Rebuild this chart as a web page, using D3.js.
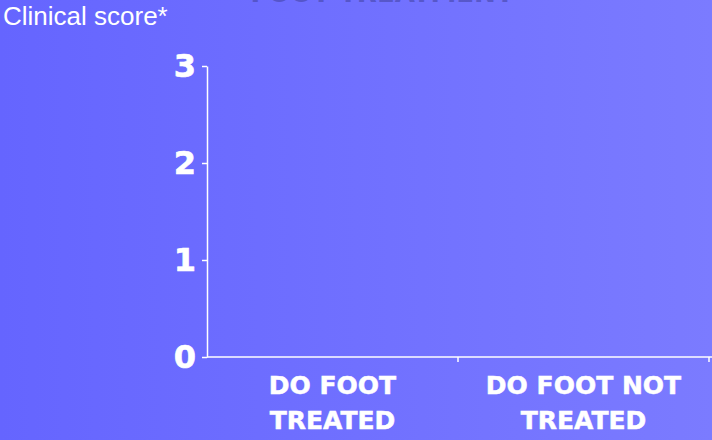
<!DOCTYPE html>
<html>
<head>
<meta charset="utf-8">
<script src="https://cdn.jsdelivr.net/npm/d3@7"></script>
<style>
html,body{margin:0;padding:0;overflow:hidden;}
svg{display:block;}
</style>
</head>
<body>
<svg id="chart" width="712" height="440"></svg>
<script>
const categories = ["DO FOOT TREATED", "DO FOOT NOT TREATED"];
const categoryLines = [["DO FOOT", "TREATED"], ["DO FOOT NOT", "TREATED"]];
const scores = [null, null]; // no bars shown in the reference
const yTicks = [0, 1, 2, 3];
const yLabel = "Clinical score*";
const title = "FOOT TREATMENT";

const W = 712, H = 440;
const svg = d3.select("#chart");

const defs = svg.append("defs");
const grad = defs.append("linearGradient").attr("id", "bg").attr("x1", "0").attr("y1", "0").attr("x2", "1").attr("y2", "0");
grad.append("stop").attr("offset", "0%").attr("stop-color", "#6565ff");
grad.append("stop").attr("offset", "100%").attr("stop-color", "#7b7bff");
svg.append("rect").attr("width", W).attr("height", H).attr("fill", "url(#bg)");

// title, mostly above the top edge as in the reference
svg.append("text").attr("x", 382).attr("y", 1.5).attr("text-anchor", "middle")
  .attr("font-family", "DejaVu Sans").attr("font-weight", "bold").attr("font-size", 26)
  .attr("fill", "#4646a8").attr("opacity", 0.6).text(title);

const y = d3.scaleLinear().domain([0, 3]).range([357, 66]);
const x = d3.scaleBand().domain(categories).range([207, 709]).padding(0);

// y axis
const yAxis = svg.append("g").attr("transform", "translate(207,0)")
  .call(d3.axisLeft(y).tickValues(yTicks).tickFormat(d3.format("d")).tickSize(5).tickSizeOuter(0).tickPadding(6));
yAxis.select(".domain").attr("stroke", "#ffffff").attr("stroke-width", 1.5);
yAxis.selectAll(".tick line").attr("stroke", "#ffffff").attr("stroke-width", 1.5);
yAxis.selectAll(".tick text").attr("fill", "#ffffff").attr("font-family", "DejaVu Sans")
  .attr("font-weight", "bold").attr("font-size", 32).attr("stroke", "#ffffff").attr("stroke-width", 0.6);

// x axis
const xAxis = svg.append("g").attr("transform", `translate(0,${y(0)})`)
  .call(d3.axisBottom(x).tickSize(0).tickSizeOuter(0).tickFormat(""));
xAxis.select(".domain").attr("stroke", "#ffffff").attr("stroke-width", 1.5)
  .attr("d", `M${x.range()[0]},0H${W}`);
xAxis.selectAll(".tick").remove();
xAxis.selectAll(".bound").data(categories).enter().append("line").attr("class", "bound")
  .attr("x1", d => x(d) + x.bandwidth()).attr("x2", d => x(d) + x.bandwidth())
  .attr("y1", 0).attr("y2", 5).attr("stroke", "#ffffff").attr("stroke-width", 1.5);

// category labels
const lab = svg.append("g");
categories.forEach((c, i) => {
  const t = lab.append("text").attr("x", x(c) + x.bandwidth() / 2).attr("y", 394)
    .attr("text-anchor", "middle").attr("fill", "#ffffff").attr("font-family", "DejaVu Sans")
    .attr("font-weight", "bold").attr("font-size", 25).attr("stroke", "#ffffff").attr("stroke-width", 0.5);
  categoryLines[i].forEach((ln, j) => {
    t.append("tspan").attr("x", x(c) + x.bandwidth() / 2).attr("dy", j === 0 ? 0 : 35).text(ln);
  });
});

// bars (none drawn as values are absent)
svg.append("g").selectAll("rect").data(categories.map((c, i) => ({c, v: scores[i]})).filter(d => d.v != null))
  .enter().append("rect").attr("x", d => x(d.c) + x.bandwidth() * 0.25).attr("width", x.bandwidth() * 0.5)
  .attr("y", d => y(d.v)).attr("height", d => y(0) - y(d.v)).attr("fill", "#ffffff");

// y label
svg.append("text").attr("x", 3).attr("y", 25).attr("fill", "#ffffff")
  .attr("font-family", "Liberation Sans").attr("font-size", 26).text(yLabel);
</script>
</body>
</html>
